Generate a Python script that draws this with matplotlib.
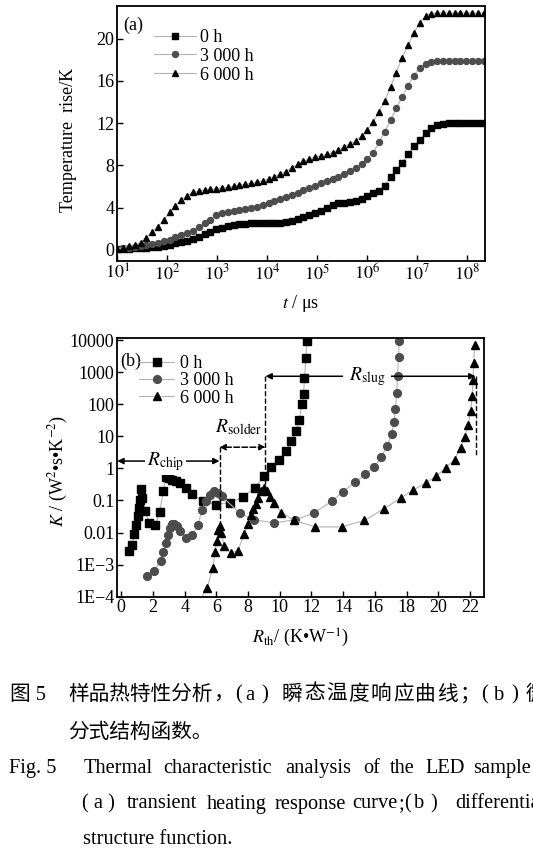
import numpy as np
import matplotlib.pyplot as plt
from matplotlib.ticker import FixedLocator, NullLocator

plt.rcParams['font.family'] = ['Liberation Serif', 'Noto Sans CJK SC', 'DejaVu Sans']
plt.rcParams['mathtext.fontset'] = 'stix'
plt.rcParams['axes.unicode_minus'] = True

# ---------------- (a) transient heating response ----------------
log_t = [1.00, 1.12, 1.23, 1.35, 1.47, 1.58, 1.70, 1.81, 1.93, 2.05,
         2.16, 2.28, 2.40, 2.51, 2.63, 2.75, 2.86, 2.98, 3.09, 3.21,
         3.33, 3.44, 3.56, 3.68, 3.79, 3.91, 4.03, 4.14, 4.26, 4.37,
         4.49, 4.61, 4.72, 4.84, 4.96, 5.07, 5.19, 5.31, 5.42, 5.54,
         5.65, 5.77, 5.89, 6.00, 6.12, 6.24, 6.35, 6.47, 6.58, 6.70,
         6.82, 6.93, 7.05, 7.17, 7.28, 7.40, 7.51, 7.63, 7.75, 7.86,
         7.98, 8.10, 8.21, 8.33]

T_0h = [0.05, 0.08, 0.11, 0.14, 0.17, 0.20, 0.25, 0.31, 0.38, 0.50,
        0.62, 0.75, 0.88, 1.05, 1.25, 1.50, 1.72, 1.94, 2.12, 2.26,
        2.37, 2.45, 2.50, 2.52, 2.53, 2.53, 2.53, 2.54, 2.58, 2.66,
        2.75, 2.90, 3.10, 3.30, 3.45, 3.70, 3.98, 4.22, 4.40, 4.49,
        4.53, 4.62, 4.85, 5.10, 5.38, 5.60, 6.10, 6.90, 7.55, 8.20,
        9.05, 9.80, 10.40, 11.05, 11.55, 11.82, 11.93, 12.00, 12.00, 12.00,
        12.00, 12.00, 12.00, 12.00]

T_3000h = [0.08, 0.14, 0.20, 0.27, 0.35, 0.44, 0.55, 0.69, 0.80, 0.97,
           1.18, 1.38, 1.60, 1.83, 2.17, 2.52, 2.88, 3.27, 3.48, 3.63,
           3.70, 3.78, 3.86, 3.96, 4.11, 4.27, 4.43, 4.60, 4.80, 5.02,
           5.20, 5.42, 5.66, 5.88, 6.10, 6.30, 6.48, 6.68, 6.92, 7.22,
           7.48, 7.80, 8.18, 8.60, 9.20, 10.20, 11.20, 12.30, 13.40, 14.45,
           15.55, 16.50, 17.20, 17.60, 17.78, 17.85, 17.85, 17.85, 17.85, 17.85,
           17.85, 17.85, 17.85, 17.85]

T_6000h = [0.10, 0.22, 0.33, 0.50, 0.70, 1.10, 1.70, 2.20, 2.85, 3.55,
           4.15, 4.70, 5.15, 5.45, 5.60, 5.67, 5.73, 5.79, 5.84, 5.92,
           6.02, 6.13, 6.22, 6.32, 6.42, 6.55, 6.72, 6.92, 7.18, 7.42,
           7.75, 8.10, 8.40, 8.58, 8.77, 8.92, 9.05, 9.22, 9.42, 9.75,
           10.05, 10.30, 10.80, 11.35, 12.10, 13.10, 14.10, 15.40, 16.80, 18.20,
           19.40, 20.50, 21.50, 22.15, 22.38, 22.45, 22.45, 22.45, 22.45, 22.45,
           22.45, 22.45, 22.45, 22.45]

# ---------------- (b) differential structure function ----------------
R_0h = [0.5, 0.7, 0.83, 0.95, 1.05, 1.13, 1.2, 1.27, 1.33, 1.5,
        1.77, 2.15, 2.44, 2.65, 2.8, 3.0, 3.22, 3.43, 3.7, 4.06,
        4.47, 5.17, 5.99, 6.84, 7.68, 8.45, 9.02, 9.44, 9.93, 10.41,
        10.72, 11.04, 11.23, 11.4, 11.5, 11.56, 11.65, 11.71]
K_0h = [2.6e-3, 4.1e-3, 8.8e-3, 0.017, 0.032, 0.06, 0.1, 0.23, 0.12, 0.047,
        0.02, 0.017, 0.045, 0.2, 0.54, 0.5, 0.45, 0.4, 0.34, 0.25,
        0.155, 0.095, 0.075, 0.085, 0.13, 0.25, 0.6, 1.1, 1.9, 3.5,
        7, 15, 33, 100, 205, 650, 2700, 9500]

R_3000h = [1.63, 2.08, 2.48, 2.65, 2.82, 2.93, 3.06, 3.2, 3.36, 3.5,
           3.72, 4.08, 4.48, 4.85, 5.08, 5.32, 5.6, 5.86, 6.09, 6.36,
           7.47, 8.39, 9.65, 10.97, 12.13, 13.28, 14.0, 14.75, 15.38, 15.94,
           16.38, 16.78, 17.06, 17.2, 17.3, 17.37, 17.43, 17.49, 17.53]
K_3000h = [4.3e-4, 6.5e-4, 1.3e-3, 2.4e-3, 4.6e-3, 8.5e-3, 0.014, 0.018, 0.019, 0.016,
           0.011, 0.007, 0.0085, 0.017, 0.05, 0.095, 0.15, 0.2, 0.17, 0.135,
           0.04, 0.025, 0.02, 0.025, 0.04, 0.095, 0.19, 0.37, 0.65, 1.1,
           2.2, 5, 12, 28, 70, 230, 790, 2900, 9500]

R_6000h = [4.75, 5.42, 5.78, 5.92, 6.02, 6.1, 6.2, 6.3, 6.5, 6.9,
           7.36, 7.75, 8.0, 8.2, 8.33, 8.48, 8.6, 8.8, 9.0, 9.18,
           9.4, 9.65, 10.1, 10.9, 12.25, 13.91, 15.34, 16.57, 17.62, 18.42,
           19.21, 19.88, 20.47, 21.04, 21.4, 21.67, 21.87, 22.04, 22.13, 22.19,
           22.23, 22.3]
K_6000h = [5e-5, 1.9e-4, 8e-4, 2.4e-3, 5.5e-3, 0.012, 0.016, 0.0095, 0.0038, 0.0023,
           0.0027, 0.009, 0.019, 0.035, 0.055, 0.08, 0.12, 0.2, 0.25, 0.2,
           0.13, 0.085, 0.042, 0.024, 0.015, 0.015, 0.024, 0.055, 0.12, 0.21,
           0.36, 0.57, 1.05, 1.9, 4.4, 9.6, 22, 62, 180, 560,
           2000, 7000]

labels = ['0 h', '3 000 h', '6 000 h']
top_xticks = [1e1, 1e2, 1e3, 1e4, 1e5, 1e6, 1e7, 1e8]
top_xticklabels = [r'$10^{1}$', r'$10^{2}$', r'$10^{3}$', r'$10^{4}$',
                   r'$10^{5}$', r'$10^{6}$', r'$10^{7}$', r'$10^{8}$']
top_yticks = [0, 4, 8, 12, 16, 20]
bot_xticks = [0, 2, 4, 6, 8, 10, 12, 14, 16, 18, 20, 22]
bot_yticks = [1e-4, 1e-3, 1e-2, 1e-1, 1, 10, 100, 1000, 10000]
bot_yticklabels = ['1E\u22124', '1E\u22123', '0.01', '0.1', '1', '10', '100', '1000', '10000']

fig = plt.figure(figsize=(5.33, 8.66), dpi=100)
ax1 = fig.add_axes([0.220, 0.6986, 0.690, 0.2945])
ax2 = fig.add_axes([0.220, 0.311, 0.688, 0.2984])

line_kw = dict(color='#b4b4b4', lw=0.8)
sty = [dict(marker='s', mfc='black', mec='black'),
       dict(marker='o', mfc='#4d4d4d', mec='#4d4d4d'),
       dict(marker='^', mfc='black', mec='black')]

# ----- panel (a)
t = 10 ** np.array(log_t)
for T, lab, s, ms in zip([T_0h, T_3000h, T_6000h], labels, sty, [4.0, 4.3, 4.6]):
    ax1.plot(t, T, ms=ms, label=lab, **s, **line_kw)
ax1.set_xscale('log')
ax1.set_xlim(10, 10 ** 8.36)
ax1.set_ylim(-1.05, 23.1)
ax1.set_xticks(top_xticks)
ax1.set_xticklabels(top_xticklabels)
ax1.xaxis.set_minor_locator(NullLocator())
ax1.set_yticks(top_yticks)
ax1.set_xlabel(r'$t$ / μs', fontsize=13)
ax1.set_ylabel('Temperature  rise/K', fontsize=13)
ax1.xaxis.set_label_coords(0.497, -0.125)
ax1.yaxis.set_label_coords(-0.11, 0.476)
ax1.text(0.016, 0.925, '(a)', transform=ax1.transAxes, fontsize=13, va='center')
ax1.legend(loc='upper left', bbox_to_anchor=(0.1, 0.91), frameon=False,
           borderaxespad=0, borderpad=0, handlelength=2.3, handletextpad=0.25,
           labelspacing=0.1, fontsize=13)

# ----- panel (b)
for R, K, lab, s, ms in zip([R_0h, R_3000h, R_6000h], [K_0h, K_3000h, K_6000h],
                            labels, sty, [5.2, 5.6, 5.6]):
    ax2.plot(R, K, ms=ms, label=lab, **s, **line_kw)
ax2.set_yscale('log')
ax2.set_xlim(-0.25, 22.88)
ax2.set_ylim(1e-4, 1.15e4)
ax2.set_xticks(bot_xticks)
ax2.yaxis.set_major_locator(FixedLocator(bot_yticks))
ax2.set_yticklabels(bot_yticklabels)
ax2.yaxis.set_minor_locator(NullLocator())
ax2.set_xlabel(r'$R_{\rm th}$/ (K•W$^{-1}$)', fontsize=13)
ax2.set_ylabel(r'$K$ / (W$^{2}$•s•K$^{-2}$)', fontsize=13)
ax2.xaxis.set_label_coords(0.5, -0.115)
ax2.yaxis.set_label_coords(-0.13, 0.486)
ax2.text(0.007, 0.909, '(b)', transform=ax2.transAxes, fontsize=13, va='center')
ax2.legend(loc='upper left', bbox_to_anchor=(0.06, 0.935), frameon=False,
           borderaxespad=0, borderpad=0, handlelength=1.95, handletextpad=0.3,
           labelspacing=0.02, fontsize=13)

arr = dict(arrowstyle='<|-|>', color='black', lw=1.1, shrinkA=0, shrinkB=0,
           mutation_scale=9)
x_chip, x_solder, x_slug = 6.2, 9.1, 22.35
# R_chip
ax2.annotate('', xy=(-0.25, 1.7), xytext=(x_chip, 1.7), arrowprops=arr)
ax2.text(2.8, 1.7, r'$R_{\rm chip}$', fontsize=14, ha='center', va='center',
         bbox=dict(fc='white', ec='none', pad=1.5))
ax2.plot([x_chip, x_chip], [4.6, 0.014], color='black', lw=1.0, ls='--')
# R_solder
ax2.annotate('', xy=(x_chip, 4.6), xytext=(x_solder, 4.6),
             arrowprops=dict(arr, ls='--'))
ax2.text(7.4, 20, r'$R_{\rm solder}$', fontsize=14, ha='center', va='center')
ax2.plot([x_solder, x_solder], [750, 0.25], color='black', lw=1.0, ls='--')
# R_slug
ax2.annotate('', xy=(x_solder, 750), xytext=(x_slug, 750), arrowprops=arr)
ax2.text(15.5, 750, r'$R_{\rm slug}$', fontsize=14, ha='center', va='center',
         bbox=dict(fc='white', ec='none', pad=4))
ax2.plot([x_slug, x_slug], [750, 2.4], color='black', lw=1.0, ls='--')

for ax in (ax1, ax2):
    ax.tick_params(direction='in', length=4, width=1, labelsize=13, pad=2)
    for sp in ax.spines.values():
        sp.set_linewidth(1.3)

# ----- caption
H = 866.0
W = 533.0
fs_cn = 14.9
fs_en = 14.7


def put(x, y, s, fs):
    fig.text(x / W, 1 - y / H, s, fontsize=fs, va='center')


put(9.5, 695, '图 5', fs_cn)
put(68.3, 695, '样品热特性分析', fs_cn)
put(213, 695, '，', fs_cn)
put(235, 695, '(', fs_cn)
put(245, 695, 'a', fs_cn)
put(261, 695, ')', fs_cn)
for i, ch in enumerate('瞬态温度响应曲线'):
    put(281.3 + 22.3 * i, 695, ch, fs_cn)
put(460, 695, '；', fs_cn)
put(481, 695, '(', fs_cn)
put(494, 695, 'b', fs_cn)
put(511, 695, ')', fs_cn)
put(526, 695, '微', fs_cn)
put(68.3, 733.3, '分式结构函数。', fs_cn)

put(9.3, 768.3, 'Fig. 5', fs_en)
for x, w in [(83.3, 'Thermal'), (163.3, 'characteristic'), (285.7, 'analysis'),
             (363, 'of'), (389.7, 'the'), (425.7, 'LED'), (473, 'sample')]:
    put(x, 768.3, w, fs_en)
for x, w in [(81.7, '( a )'), (126.7, 'transient'), (206.7, 'heating'),
             (274.7, 'response'), (352, 'curve'), (399, ';'), (404, '('),
             (414, 'b'), (430, ')'), (455.7, 'differential')]:
    put(x, 804, w, fs_en)
put(83.3, 840, 'structure function.', fs_en)

fig.savefig('out.png', dpi=100)
